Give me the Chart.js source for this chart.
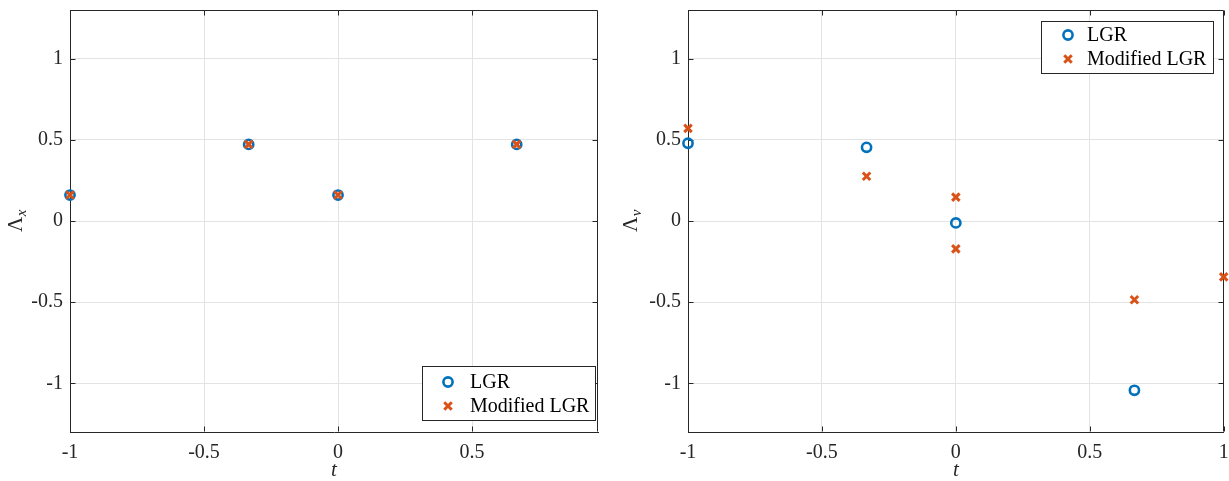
<!DOCTYPE html>
<html>
<head>
<meta charset="utf-8">
<script src="https://cdn.jsdelivr.net/npm/chart.js@4/dist/chart.umd.min.js"></script>
<style>
  html, body { margin: 0; padding: 0; background: #fff; overflow: hidden; }
  #wrap { position: relative; width: 1229px; height: 481px; overflow: hidden; }
  canvas { position: absolute; top: 0; }
</style>
</head>
<body>
<div id="wrap">
  <canvas id="leftChart" width="615" height="481" style="left:0"></canvas>
  <canvas id="rightChart" width="617" height="481" style="left:615px"></canvas>
</div>
<script>
// data
const seriesNames = ["LGR", "Modified LGR"]

const tLeft = [-1, -1/3, 0, 2/3]
const lgrLeft = [0.16, 0.472, 0.16, 0.472]
const tModLeft = [-1, -1/3, 0, 2/3]
const modLeft = [0.16, 0.472, 0.16, 0.472]

const tRight = [-1, -1/3, 0, 2/3]
const lgrRight = [0.479, 0.454, -0.012, -1.043]
const tModRight = [-1, -1/3, 0, 0, 2/3, 1]
const modRight = [0.571, 0.276, 0.147, -0.172, -0.485, -0.344]

const xRangeLeft = [-1, 0.97]
const xRangeRight = [-1, 1]
const yRange = [-1.3, 1.3]
const tickStep = 0.5

const BLUE = "#0072BD"
const ORANGE = "#D95319"
const AXIS = "#262626"
const GRID = "#e3e3e3"
const FONT = "'Liberation Serif', 'DejaVu Serif', serif"

Chart.defaults.font.family = FONT
Chart.defaults.font.size = 20
Chart.defaults.color = AXIS

const toPoints = (xs, ys) => xs.map((x, i) => ({ x: x, y: ys[i] }))
const fmt = v => String(Math.round(v * 10) / 10)

// top/right box lines + inward ticks, like matlab axes
const frame = {
  id: "frame",
  beforeDatasetsDraw(chart) {
    const { ctx, chartArea: a, scales } = chart
    const L = Math.round(a.left) + 0.5, R = Math.round(a.right) - 0.5
    const T = Math.round(a.top) + 0.5, B = Math.round(a.bottom) - 0.5
    ctx.save()
    ctx.strokeStyle = AXIS
    ctx.lineWidth = 1
    ctx.beginPath()
    ctx.moveTo(L, T); ctx.lineTo(R, T); ctx.lineTo(R, B)
    scales.x.ticks.forEach(t => {
      const px = Math.round(scales.x.getPixelForValue(t.value)) + 0.5
      ctx.moveTo(px, B); ctx.lineTo(px, B - 5)
      ctx.moveTo(px, T); ctx.lineTo(px, T + 5)
    })
    scales.y.ticks.forEach(t => {
      const py = Math.round(scales.y.getPixelForValue(t.value)) + 0.5
      ctx.moveTo(L, py); ctx.lineTo(L + 5, py)
      ctx.moveTo(R, py); ctx.lineTo(R - 5, py)
    })
    ctx.stroke()
    ctx.restore()
  }
}

// rotated y label with subscript
const yLabel = {
  id: "yLabel",
  afterDraw(chart, args, opts) {
    const { ctx, chartArea: a } = chart
    ctx.save()
    ctx.translate(opts.x, (a.top + a.bottom) / 2)
    ctx.rotate(-Math.PI / 2)
    ctx.fillStyle = AXIS
    ctx.textBaseline = "alphabetic"
    ctx.font = "21px " + FONT
    const wMain = ctx.measureText(opts.main).width
    ctx.font = "italic 15px " + FONT
    const wSub = ctx.measureText(opts.sub).width
    const x0 = -(wMain + wSub) / 2
    ctx.font = "21px " + FONT
    ctx.fillText(opts.main, x0, 0)
    ctx.font = "italic 15px " + FONT
    ctx.fillText(opts.sub, x0 + wMain + 0.5, 4)
    ctx.restore()
  }
}

// boxed legend placed inside the axes
const boxLegend = {
  id: "boxLegend",
  afterDraw(chart, args, opts) {
    const { ctx, chartArea: a } = chart
    const w = opts.width, h = opts.height
    const x0 = Math.round(a.right - opts.right - w)
    const y0 = Math.round(opts.top != null ? a.top + opts.top : a.bottom - opts.bottom - h)
    ctx.save()
    ctx.fillStyle = "#fff"
    ctx.fillRect(x0, y0, w, h)
    ctx.strokeStyle = AXIS
    ctx.lineWidth = 1
    ctx.strokeRect(x0 + 0.5, y0 + 0.5, w, h)
    chart.data.datasets.forEach((ds, i) => {
      const cy = y0 + opts.rowTop + i * opts.rowGap
      ctx.strokeStyle = ds.borderColor
      ctx.fillStyle = "rgba(0,0,0,0)"
      ctx.lineWidth = ds.borderWidth
      Chart.helpers.drawPoint(ctx, {
        pointStyle: ds.pointStyle, radius: ds.pointRadius, rotation: 0, borderWidth: ds.borderWidth
      }, x0 + opts.markerX, cy)
      ctx.fillStyle = "#000"
      ctx.font = "20px " + FONT
      ctx.textBaseline = "middle"
      ctx.textAlign = "left"
      ctx.fillText(ds.label, x0 + opts.textX, cy + 1)
    })
    ctx.restore()
  }
}

function makeChart(id, cfg) {
  const ctx = document.getElementById(id).getContext("2d")
  return new Chart(ctx, {
    type: "scatter",
    data: {
      datasets: [{
        label: seriesNames[0],
        data: toPoints(cfg.t1, cfg.y1),
        pointStyle: "circle",
        pointRadius: 4.6,
        borderWidth: 2.6,
        borderColor: BLUE,
        backgroundColor: "rgba(0,0,0,0)",
        order: 1,
        clip: false
      }, {
        label: seriesNames[1],
        data: toPoints(cfg.t2, cfg.y2),
        pointStyle: "crossRot",
        pointRadius: 5.3,
        borderWidth: 3,
        borderColor: ORANGE,
        backgroundColor: ORANGE,
        order: 0,
        clip: false
      }]
    },
    options: {
      responsive: false,
      animation: false,
      events: [],
      layout: { padding: { top: 10, right: cfg.padRight, left: 0, bottom: 0 } },
      plugins: {
        legend: { display: false },
        tooltip: { enabled: false },
        yLabel: { main: "Λ", sub: cfg.sub, x: 22 },
        boxLegend: cfg.legend
      },
      scales: {
        x: {
          type: "linear",
          min: cfg.xRange[0],
          max: cfg.xRange[1],
          grid: { color: GRID, drawTicks: false, lineWidth: 1 },
          border: { color: AXIS, width: 1 },
          ticks: { stepSize: tickStep, includeBounds: false, autoSkip: false, maxRotation: 0, padding: 9, color: AXIS, callback: fmt },
          title: { display: true, text: "t", font: { style: "italic", size: 21, lineHeight: 1 }, padding: { top: 0, bottom: 0 }, color: AXIS },
          afterFit(s) { s.height = 49; s.paddingLeft = 0; s.paddingRight = 0 }
        },
        y: {
          type: "linear",
          min: yRange[0],
          max: yRange[1],
          grid: { color: GRID, drawTicks: false, lineWidth: 1 },
          border: { color: AXIS, width: 1 },
          ticks: { stepSize: tickStep, includeBounds: false, autoSkip: false, padding: 7, color: AXIS, callback: fmt },
          afterFit(s) { s.width = cfg.yWidth; s.paddingTop = 0; s.paddingBottom = 0 }
        }
      }
    },
    plugins: [frame, yLabel, boxLegend]
  })
}

makeChart("leftChart", {
  t1: tLeft, y1: lgrLeft, t2: tModLeft, y2: modLeft,
  xRange: xRangeLeft, sub: "x", yWidth: 70, padRight: 17,
  legend: { width: 173, height: 54, right: 3, bottom: 12, markerX: 26, textX: 48, rowTop: 16, rowGap: 24 }
})

makeChart("rightChart", {
  t1: tRight, y1: lgrRight, t2: tModRight, y2: modRight,
  xRange: xRangeRight, sub: "v", yWidth: 73, padRight: 5,
  legend: { width: 172, height: 52, right: 11, top: 11, markerX: 27, textX: 46, rowTop: 14, rowGap: 24 }
})
</script>
</body>
</html>
